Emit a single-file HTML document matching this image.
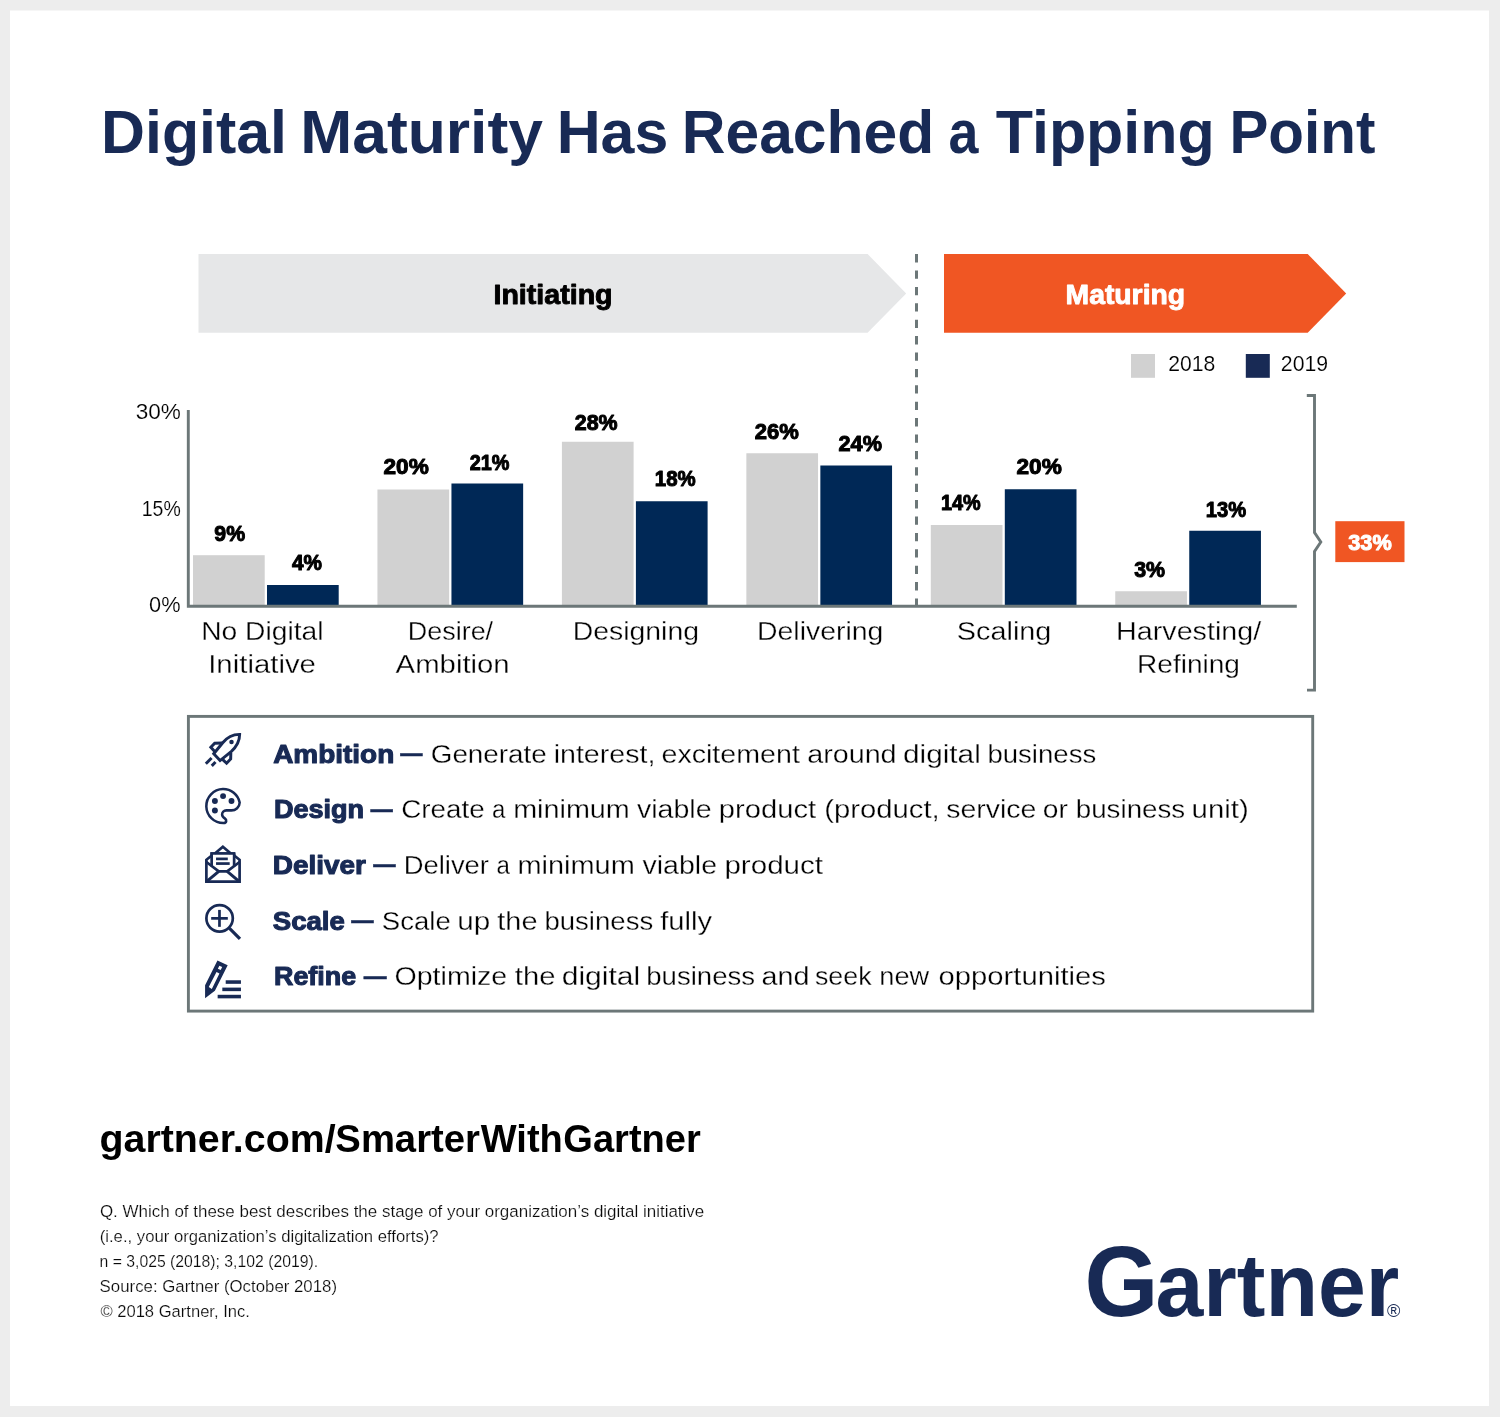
<!DOCTYPE html>
<html lang="en"><head><meta charset="utf-8"><title>Digital Maturity Has Reached a Tipping Point</title>
<style>html,body{margin:0;padding:0;background:#ededed}svg{display:block}text{font-family:"Liberation Sans",sans-serif;white-space:pre}</style></head><body>
<svg width="1500" height="1417" viewBox="0 0 1500 1417">
<rect width="1500" height="1417" fill="#ededed"/>
<rect x="10" y="10.5" width="1479" height="1395.5" fill="#fff"/>
<polygon points="198.5,254 867.6,254 906.2,293.4 867.6,332.8 198.5,332.8" fill="#e6e7e8"/>
<polygon points="944,254 1307.7,254 1346.2,293.4 1307.7,332.8 944,332.8" fill="#f05623"/>
<line x1="916.5" y1="254.1" x2="916.5" y2="605" stroke="#6c7778" stroke-width="3" stroke-dasharray="8.3 8.1"/>
<rect x="1131" y="354" width="24" height="23.8" fill="#d1d1d1"/>
<rect x="1245.8" y="354" width="24" height="23.8" fill="#182a55"/>
<rect x="193.00" y="555.2" width="71.7" height="50.30" fill="#d1d1d1"/>
<rect x="267.00" y="585" width="71.7" height="20.50" fill="#002856"/>
<rect x="377.45" y="489.5" width="71.7" height="116.00" fill="#d1d1d1"/>
<rect x="451.45" y="483.5" width="71.7" height="122.00" fill="#002856"/>
<rect x="561.90" y="441.75" width="71.7" height="163.75" fill="#d1d1d1"/>
<rect x="635.90" y="501.25" width="71.7" height="104.25" fill="#002856"/>
<rect x="746.35" y="453.25" width="71.7" height="152.25" fill="#d1d1d1"/>
<rect x="820.35" y="465.5" width="71.7" height="140.00" fill="#002856"/>
<rect x="930.80" y="525" width="71.7" height="80.50" fill="#d1d1d1"/>
<rect x="1004.80" y="489.25" width="71.7" height="116.25" fill="#002856"/>
<rect x="1115.25" y="591.25" width="71.7" height="14.25" fill="#d1d1d1"/>
<rect x="1189.25" y="530.75" width="71.7" height="74.75" fill="#002856"/>
<path d="M188.3 410.1V606.3H1296.8" fill="none" stroke="#6c7778" stroke-width="2.9"/>
<path d="M1306.8 395.5H1314.5V532.5L1320.8 542L1314.5 551.5V690.1H1307" fill="none" stroke="#6c7778" stroke-width="2.9" stroke-linejoin="miter"/>
<rect x="1335.3" y="521.2" width="69.2" height="40.9" fill="#f05623"/>
<rect x="188.4" y="716.4" width="1124.3" height="294.7" fill="none" stroke="#6c7778" stroke-width="2.9"/>
<g fill="none" stroke="#182a55" stroke-width="2.96" stroke-linejoin="miter">
<path d="M 239.63 734.36 C 233.63 734.29 227.28 737.11 222.70 742.76 L 213.73 753.69 L 220.08 760.54 L 231.16 751.58 C 236.46 746.99 239.63 740.99 239.63 734.36 Z"/>
<path d="M 222.34 742.90 L 214.72 743.25 L 210.84 747.34 L 214.72 751.58"/>
<path d="M 230.81 752.99 L 230.67 758.99 L 226.58 763.22 L 222.55 759.34"/>
<path d="M 211.55 758.07 L 205.83 763.79"/>
<path d="M 215.50 762.02 L 211.76 765.90"/>
</g>
<circle cx="231.52" cy="742.05" r="2.26" fill="#182a55"/>
<path d="M 222.95 788.97 A 16.94 16.94 0 0 1 239.67 802.52 C 239.67 807.18 235.65 810.36 231.41 810.36 L 226.33 810.36 C 223.79 810.36 222.10 812.26 222.10 814.38 C 222.10 816.50 223.79 817.77 225.06 818.61 C 226.76 819.88 226.76 823.06 223.79 823.06 A 16.94 16.94 0 0 1 222.95 788.97 Z" fill="none" stroke="#182a55" stroke-width="2.54"/>
<circle cx="214.90" cy="800.96" r="2.96" fill="#182a55"/>
<circle cx="223.07" cy="796.09" r="2.96" fill="#182a55"/>
<circle cx="231.50" cy="800.96" r="2.96" fill="#182a55"/>
<circle cx="214.90" cy="810.48" r="2.96" fill="#182a55"/>
<g fill="none" stroke="#182a55" stroke-width="2.70" stroke-linejoin="miter">
<path d="M 212.07 855.18 L 206.38 859.82 L 206.38 881.60 L 239.60 881.60 L 239.60 859.82 L 233.88 855.18"/>
<path d="M 214.93 853.59 L 222.86 846.67 L 230.80 853.59"/>
<path d="M 206.38 861.98 L 218.74 871.44 L 227.15 871.44 L 239.60 861.98"/>
<path d="M 218.74 871.44 L 206.83 881.44" stroke-width="3.02"/>
<path d="M 227.15 871.44 L 239.12 881.44" stroke-width="3.02"/>
<path d="M 211.65 853.40 L 211.65 866.36"/>
<path d="M 234.14 853.40 L 234.14 866.36"/>
<path d="M 210.23 853.40 L 235.41 853.40"/>
<path d="M 216.04 858.89 L 227.79 858.89"/>
<path d="M 216.04 863.56 L 229.69 863.56"/>
</g>
<g fill="none" stroke="#182a55" stroke-width="2.71">
<circle cx="219.60" cy="918.37" r="13.21"/>
<path d="M 211.17 918.37 L 227.82 918.37"/>
<path d="M 219.47 909.90 L 219.47 926.84"/>
<path d="M 229.51 928.32 L 239.97 938.78" stroke-width="3.22"/>
</g>
<path fill-rule="evenodd" fill="#182a55" d="M 217.44 960.58 L 227.69 965.32 L 214.90 990.73 L 205.08 998.14 L 205.08 985.23 Z M 219.35 965.75 L 222.18 967.10 L 220.66 970.07 L 217.86 968.71 Z M 216.51 972.01 L 219.43 973.58 L 211.81 988.91 L 208.76 987.00 Z"/>
<g fill="none" stroke="#182a55" stroke-width="3.56">
<path d="M 225.70 982.05 L 240.94 982.05"/>
<path d="M 222.31 989.37 L 240.94 989.37"/>
<path d="M 217.65 996.57 L 240.94 996.57"/>
</g>
<text font-weight="bold" fill="#182a55"><tspan id="t0" font-size="62" x="101.07" y="152.8" textLength="185.85" lengthAdjust="spacingAndGlyphs">Digital</tspan> <tspan id="t1" font-size="62" x="300.23" y="152.8" textLength="242.69" lengthAdjust="spacingAndGlyphs">Maturity</tspan> <tspan id="t2" font-size="62" x="556.68" y="152.8" textLength="111.61" lengthAdjust="spacingAndGlyphs">Has</tspan> <tspan id="t3" font-size="62" x="681.75" y="152.8" textLength="252.39" lengthAdjust="spacingAndGlyphs">Reached</tspan> <tspan id="t4" font-size="62" x="948.61" y="152.8" textLength="29.91" lengthAdjust="spacingAndGlyphs">a</tspan> <tspan id="t5" font-size="62" x="995.83" y="152.8" textLength="218.93" lengthAdjust="spacingAndGlyphs">Tipping</tspan> <tspan id="t6" font-size="62" x="1229.41" y="152.8" textLength="145.97" lengthAdjust="spacingAndGlyphs">Point</tspan></text>
<text id="t7" font-size="27.3" x="493.48" y="303.8" textLength="119.11" lengthAdjust="spacingAndGlyphs" font-weight="bold" fill="#000" stroke="#000" stroke-width="0.9" stroke-linejoin="round">Initiating</text>
<text id="t8" font-size="27.3" x="1065.54" y="303.8" textLength="119.60" lengthAdjust="spacingAndGlyphs" font-weight="bold" fill="#fff" stroke="#fff" stroke-width="0.9" stroke-linejoin="round">Maturing</text>
<text id="t9" font-size="21.5" x="1168.28" y="370.5" textLength="47.08" lengthAdjust="spacingAndGlyphs" font-weight="normal" fill="#000" stroke="#fff" stroke-width="0.15" class="thin">2018</text>
<text id="t10" font-size="21.5" x="1280.86" y="370.5" textLength="47.30" lengthAdjust="spacingAndGlyphs" font-weight="normal" fill="#000" stroke="#fff" stroke-width="0.15" class="thin">2019</text>
<text id="t11" font-size="22.7" x="135.66" y="418.9" textLength="45.19" lengthAdjust="spacingAndGlyphs" font-weight="normal" fill="#000" stroke="#fff" stroke-width="0.15" class="thin">30%</text>
<text id="t12" font-size="22.7" x="141.73" y="516" textLength="39.00" lengthAdjust="spacingAndGlyphs" font-weight="normal" fill="#000" stroke="#fff" stroke-width="0.15" class="thin">15%</text>
<text id="t13" font-size="22.7" x="149.12" y="611.8" textLength="31.41" lengthAdjust="spacingAndGlyphs" font-weight="normal" fill="#000" stroke="#fff" stroke-width="0.15" class="thin">0%</text>
<text id="t14" font-size="21.5" x="214.32" y="540.5" textLength="30.76" lengthAdjust="spacingAndGlyphs" font-weight="bold" fill="#000" stroke="#000" stroke-width="1.0" stroke-linejoin="round">9%</text>
<text id="t15" font-size="21.5" x="291.98" y="569.5" textLength="29.96" lengthAdjust="spacingAndGlyphs" font-weight="bold" fill="#000" stroke="#000" stroke-width="1.0" stroke-linejoin="round">4%</text>
<text id="t16" font-size="21.5" x="383.53" y="473.75" textLength="45.25" lengthAdjust="spacingAndGlyphs" font-weight="bold" fill="#000" stroke="#000" stroke-width="1.0" stroke-linejoin="round">20%</text>
<text id="t17" font-size="21.5" x="469.66" y="470" textLength="39.71" lengthAdjust="spacingAndGlyphs" font-weight="bold" fill="#000" stroke="#000" stroke-width="1.0" stroke-linejoin="round">21%</text>
<text id="t18" font-size="21.5" x="574.77" y="430" textLength="42.85" lengthAdjust="spacingAndGlyphs" font-weight="bold" fill="#000" stroke="#000" stroke-width="1.0" stroke-linejoin="round">28%</text>
<text id="t19" font-size="21.5" x="654.86" y="485.75" textLength="40.87" lengthAdjust="spacingAndGlyphs" font-weight="bold" fill="#000" stroke="#000" stroke-width="1.0" stroke-linejoin="round">18%</text>
<text id="t20" font-size="21.5" x="754.79" y="438.75" textLength="44.07" lengthAdjust="spacingAndGlyphs" font-weight="bold" fill="#000" stroke="#000" stroke-width="1.0" stroke-linejoin="round">26%</text>
<text id="t21" font-size="21.5" x="838.56" y="450.75" textLength="43.36" lengthAdjust="spacingAndGlyphs" font-weight="bold" fill="#000" stroke="#000" stroke-width="1.0" stroke-linejoin="round">24%</text>
<text id="t22" font-size="21.5" x="941.01" y="509.5" textLength="39.72" lengthAdjust="spacingAndGlyphs" font-weight="bold" fill="#000" stroke="#000" stroke-width="1.0" stroke-linejoin="round">14%</text>
<text id="t23" font-size="21.5" x="1016.53" y="473.75" textLength="45.25" lengthAdjust="spacingAndGlyphs" font-weight="bold" fill="#000" stroke="#000" stroke-width="1.0" stroke-linejoin="round">20%</text>
<text id="t24" font-size="21.5" x="1134.15" y="576.5" textLength="30.87" lengthAdjust="spacingAndGlyphs" font-weight="bold" fill="#000" stroke="#000" stroke-width="1.0" stroke-linejoin="round">3%</text>
<text id="t25" font-size="21.5" x="1205.85" y="516.5" textLength="40.35" lengthAdjust="spacingAndGlyphs" font-weight="bold" fill="#000" stroke="#000" stroke-width="1.0" stroke-linejoin="round">13%</text>
<text id="t26" font-size="21.5" x="1348.25" y="549.7" textLength="43.44" lengthAdjust="spacingAndGlyphs" font-weight="bold" fill="#fff" stroke="#fff" stroke-width="1.0" stroke-linejoin="round">33%</text>
<text id="t27" font-size="25.8" x="201.16" y="640.25" textLength="122.31" lengthAdjust="spacingAndGlyphs" font-weight="normal" fill="#000" stroke="#fff" stroke-width="0.3" class="thin">No Digital</text>
<text id="t28" font-size="25.8" x="208.23" y="672.5" textLength="107.70" lengthAdjust="spacingAndGlyphs" font-weight="normal" fill="#000" stroke="#fff" stroke-width="0.3" class="thin">Initiative</text>
<text id="t29" font-size="25.8" x="407.73" y="640.25" textLength="85.40" lengthAdjust="spacingAndGlyphs" font-weight="normal" fill="#000" stroke="#fff" stroke-width="0.3" class="thin">Desire/</text>
<text id="t30" font-size="25.8" x="395.61" y="672.5" textLength="114.08" lengthAdjust="spacingAndGlyphs" font-weight="normal" fill="#000" stroke="#fff" stroke-width="0.3" class="thin">Ambition</text>
<text id="t31" font-size="25.8" x="572.68" y="640.25" textLength="126.34" lengthAdjust="spacingAndGlyphs" font-weight="normal" fill="#000" stroke="#fff" stroke-width="0.3" class="thin">Designing</text>
<text id="t32" font-size="25.8" x="756.99" y="640.25" textLength="126.38" lengthAdjust="spacingAndGlyphs" font-weight="normal" fill="#000" stroke="#fff" stroke-width="0.3" class="thin">Delivering</text>
<text id="t33" font-size="25.8" x="956.83" y="640.25" textLength="94.56" lengthAdjust="spacingAndGlyphs" font-weight="normal" fill="#000" stroke="#fff" stroke-width="0.3" class="thin">Scaling</text>
<text id="t34" font-size="25.8" x="1116.13" y="640.25" textLength="145.02" lengthAdjust="spacingAndGlyphs" font-weight="normal" fill="#000" stroke="#fff" stroke-width="0.3" class="thin">Harvesting/</text>
<text id="t35" font-size="25.8" x="1137.02" y="672.5" textLength="102.96" lengthAdjust="spacingAndGlyphs" font-weight="normal" fill="#000" stroke="#fff" stroke-width="0.3" class="thin">Refining</text>
<text id="t36" font-size="26.3" x="273.16" y="762.8" textLength="121.08" lengthAdjust="spacingAndGlyphs" font-weight="bold" fill="#182a55" stroke="#182a55" stroke-width="1.1" stroke-linejoin="round">Ambition</text>
<text id="t37" font-size="26.3" x="400.33" y="762.1999999999999" textLength="22.26" lengthAdjust="spacingAndGlyphs" font-weight="bold" fill="#182a55" stroke="#182a55" stroke-width="0.5" stroke-linejoin="round">—</text>
<text font-weight="normal" fill="#000" stroke="#fff" stroke-width="0.3" class="thin"><tspan id="t38" font-size="26.3" x="430.74" y="762.8" textLength="116.05" lengthAdjust="spacingAndGlyphs">Generate</tspan> <tspan id="t39" font-size="26.3" x="553.65" y="762.8" textLength="101.78" lengthAdjust="spacingAndGlyphs">interest,</tspan> <tspan id="t40" font-size="26.3" x="661.51" y="762.8" textLength="138.35" lengthAdjust="spacingAndGlyphs">excitement</tspan> <tspan id="t41" font-size="26.3" x="807.16" y="762.8" textLength="89.44" lengthAdjust="spacingAndGlyphs">around</tspan> <tspan id="t42" font-size="26.3" x="903.01" y="762.8" textLength="77.80" lengthAdjust="spacingAndGlyphs">digital</tspan> <tspan id="t43" font-size="26.3" x="987.43" y="762.8" textLength="108.77" lengthAdjust="spacingAndGlyphs">business</tspan></text>
<text id="t44" font-size="26.3" x="273.91" y="818.4" textLength="90.26" lengthAdjust="spacingAndGlyphs" font-weight="bold" fill="#182a55" stroke="#182a55" stroke-width="1.1" stroke-linejoin="round">Design</text>
<text id="t45" font-size="26.3" x="370.53" y="817.8" textLength="22.30" lengthAdjust="spacingAndGlyphs" font-weight="bold" fill="#182a55" stroke="#182a55" stroke-width="0.5" stroke-linejoin="round">—</text>
<text font-weight="normal" fill="#000" stroke="#fff" stroke-width="0.3" class="thin"><tspan id="t46" font-size="26.3" x="401.29" y="818.4" textLength="83.45" lengthAdjust="spacingAndGlyphs">Create</tspan> <tspan id="t47" font-size="26.3" x="491.90" y="818.4" textLength="13.33" lengthAdjust="spacingAndGlyphs">a</tspan> <tspan id="t48" font-size="26.3" x="513.15" y="818.4" textLength="116.71" lengthAdjust="spacingAndGlyphs">minimum</tspan> <tspan id="t49" font-size="26.3" x="636.97" y="818.4" textLength="74.65" lengthAdjust="spacingAndGlyphs">viable</tspan> <tspan id="t50" font-size="26.3" x="718.89" y="818.4" textLength="97.24" lengthAdjust="spacingAndGlyphs">product</tspan> <tspan id="t51" font-size="26.3" x="824.39" y="818.4" textLength="115.29" lengthAdjust="spacingAndGlyphs">(product,</tspan> <tspan id="t52" font-size="26.3" x="946.18" y="818.4" textLength="90.20" lengthAdjust="spacingAndGlyphs">service</tspan> <tspan id="t53" font-size="26.3" x="1042.83" y="818.4" textLength="25.06" lengthAdjust="spacingAndGlyphs">or</tspan> <tspan id="t54" font-size="26.3" x="1075.80" y="818.4" textLength="109.37" lengthAdjust="spacingAndGlyphs">business</tspan> <tspan id="t55" font-size="26.3" x="1191.64" y="818.4" textLength="57.14" lengthAdjust="spacingAndGlyphs">unit)</tspan></text>
<text id="t56" font-size="26.3" x="272.76" y="874.0" textLength="93.10" lengthAdjust="spacingAndGlyphs" font-weight="bold" fill="#182a55" stroke="#182a55" stroke-width="1.1" stroke-linejoin="round">Deliver</text>
<text id="t57" font-size="26.3" x="373.34" y="873.4" textLength="22.36" lengthAdjust="spacingAndGlyphs" font-weight="bold" fill="#182a55" stroke="#182a55" stroke-width="0.5" stroke-linejoin="round">—</text>
<text font-weight="normal" fill="#000" stroke="#fff" stroke-width="0.3" class="thin"><tspan id="t58" font-size="26.3" x="403.67" y="874.0" textLength="85.32" lengthAdjust="spacingAndGlyphs">Deliver</tspan> <tspan id="t59" font-size="26.3" x="496.43" y="874.0" textLength="13.39" lengthAdjust="spacingAndGlyphs">a</tspan> <tspan id="t60" font-size="26.3" x="517.47" y="874.0" textLength="117.32" lengthAdjust="spacingAndGlyphs">minimum</tspan> <tspan id="t61" font-size="26.3" x="642.46" y="874.0" textLength="74.55" lengthAdjust="spacingAndGlyphs">viable</tspan> <tspan id="t62" font-size="26.3" x="724.41" y="874.0" textLength="98.60" lengthAdjust="spacingAndGlyphs">product</tspan></text>
<text id="t63" font-size="26.3" x="272.79" y="929.7" textLength="72.09" lengthAdjust="spacingAndGlyphs" font-weight="bold" fill="#182a55" stroke="#182a55" stroke-width="1.1" stroke-linejoin="round">Scale</text>
<text id="t64" font-size="26.3" x="351.34" y="929.1" textLength="22.36" lengthAdjust="spacingAndGlyphs" font-weight="bold" fill="#182a55" stroke="#182a55" stroke-width="0.5" stroke-linejoin="round">—</text>
<text font-weight="normal" fill="#000" stroke="#fff" stroke-width="0.3" class="thin"><tspan id="t65" font-size="26.3" x="381.84" y="929.7" textLength="68.93" lengthAdjust="spacingAndGlyphs">Scale</tspan> <tspan id="t66" font-size="26.3" x="457.28" y="929.7" textLength="33.00" lengthAdjust="spacingAndGlyphs">up</tspan> <tspan id="t67" font-size="26.3" x="497.33" y="929.7" textLength="40.17" lengthAdjust="spacingAndGlyphs">the</tspan> <tspan id="t68" font-size="26.3" x="544.43" y="929.7" textLength="108.77" lengthAdjust="spacingAndGlyphs">business</tspan> <tspan id="t69" font-size="26.3" x="660.16" y="929.7" textLength="51.90" lengthAdjust="spacingAndGlyphs">fully</tspan></text>
<text id="t70" font-size="26.3" x="273.99" y="985.3" textLength="82.21" lengthAdjust="spacingAndGlyphs" font-weight="bold" fill="#182a55" stroke="#182a55" stroke-width="1.1" stroke-linejoin="round">Refine</text>
<text id="t71" font-size="26.3" x="363.72" y="984.6999999999999" textLength="22.85" lengthAdjust="spacingAndGlyphs" font-weight="bold" fill="#182a55" stroke="#182a55" stroke-width="0.5" stroke-linejoin="round">—</text>
<text font-weight="normal" fill="#000" stroke="#fff" stroke-width="0.3" class="thin"><tspan id="t72" font-size="26.3" x="394.52" y="985.3" textLength="112.67" lengthAdjust="spacingAndGlyphs">Optimize</tspan> <tspan id="t73" font-size="26.3" x="514.87" y="985.3" textLength="40.61" lengthAdjust="spacingAndGlyphs">the</tspan> <tspan id="t74" font-size="26.3" x="561.70" y="985.3" textLength="78.49" lengthAdjust="spacingAndGlyphs">digital</tspan> <tspan id="t75" font-size="26.3" x="646.25" y="985.3" textLength="108.85" lengthAdjust="spacingAndGlyphs">business</tspan> <tspan id="t76" font-size="26.3" x="761.43" y="985.3" textLength="47.96" lengthAdjust="spacingAndGlyphs">and</tspan> <tspan id="t77" font-size="26.3" x="814.96" y="985.3" textLength="56.67" lengthAdjust="spacingAndGlyphs">seek</tspan> <tspan id="t78" font-size="26.3" x="879.35" y="985.3" textLength="49.79" lengthAdjust="spacingAndGlyphs">new</tspan> <tspan id="t79" font-size="26.3" x="938.51" y="985.3" textLength="167.39" lengthAdjust="spacingAndGlyphs">opportunities</tspan></text>
<text font-weight="bold" fill="#000"><tspan id="t80" font-size="38" x="99.55" y="1152.2" textLength="236.04" lengthAdjust="spacingAndGlyphs">gartner.com/</tspan><tspan id="t81" font-size="38" x="335.39" y="1152.2" textLength="144.53" lengthAdjust="spacingAndGlyphs">Smarter</tspan><tspan id="t82" font-size="38" x="480.74" y="1152.2" textLength="82.06" lengthAdjust="spacingAndGlyphs">With</tspan><tspan id="t83" font-size="38" x="563.34" y="1152.2" textLength="137.46" lengthAdjust="spacingAndGlyphs">Gartner</tspan></text>
<text id="t84" font-size="17.1" x="99.88" y="1216.7" textLength="604.42" lengthAdjust="spacingAndGlyphs" font-weight="normal" fill="#0a0a0a" stroke="#fff" stroke-width="0.2" class="thin">Q. Which of these best describes the stage of your organization’s digital initiative</text>
<text id="t85" font-size="17.1" x="99.73" y="1241.5" textLength="338.85" lengthAdjust="spacingAndGlyphs" font-weight="normal" fill="#0a0a0a" stroke="#fff" stroke-width="0.2" class="thin">(i.e., your organization’s digitalization efforts)?</text>
<text id="t86" font-size="17.1" x="99.55" y="1266.9" textLength="218.52" lengthAdjust="spacingAndGlyphs" font-weight="normal" fill="#0a0a0a" stroke="#fff" stroke-width="0.2" class="thin">n = 3,025 (2018); 3,102 (2019).</text>
<text id="t87" font-size="17.1" x="99.61" y="1291.7" textLength="237.41" lengthAdjust="spacingAndGlyphs" font-weight="normal" fill="#0a0a0a" stroke="#fff" stroke-width="0.2" class="thin">Source: Gartner (October 2018)</text>
<text id="t88" font-size="17.1" x="100.38" y="1316.5" textLength="149.52" lengthAdjust="spacingAndGlyphs" font-weight="normal" fill="#0a0a0a" stroke="#fff" stroke-width="0.2" class="thin">© 2018 Gartner, Inc.</text>
<text font-weight="bold" fill="#182a55"><tspan id="t89" font-size="100" x="1084.47" y="1316.3" textLength="73.86" lengthAdjust="spacingAndGlyphs">G</tspan><tspan id="t90" font-size="89" x="1155.49" y="1315.7" textLength="243.80" lengthAdjust="spacingAndGlyphs">artner</tspan></text>
<text id="t91" font-size="17.5" x="1387.00" y="1316.6" textLength="13.36" lengthAdjust="spacingAndGlyphs" font-weight="normal" fill="#182a55">®</text>
</svg></body></html>
